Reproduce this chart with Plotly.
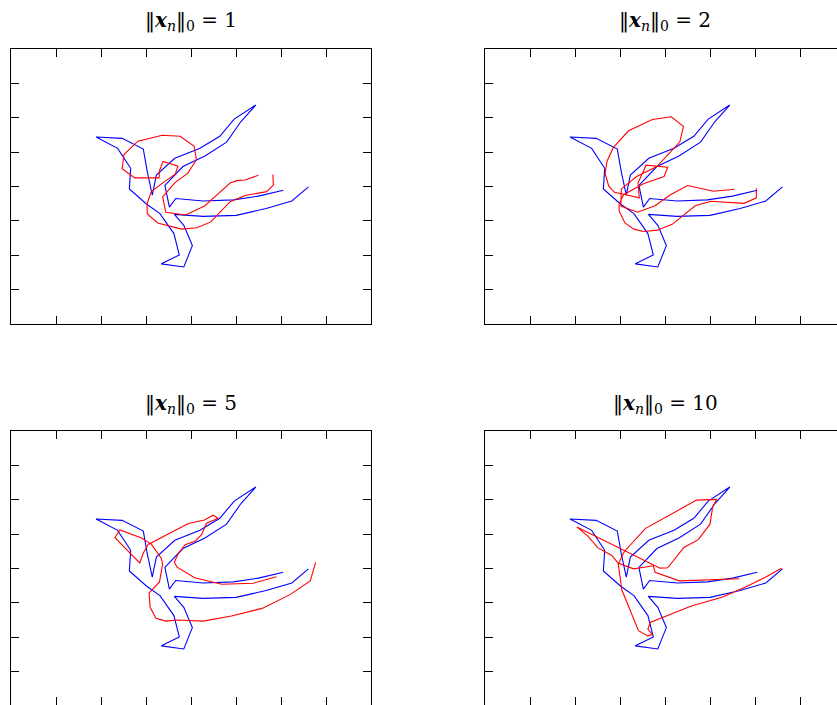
import plotly.graph_objects as go

# sparsity levels shown in the subplot titles
sparsity = [1, 2, 5, 10]

# original shape (blue), identical in every panel
blue_x = [6.05, 5.50, 4.94, 4.27, 3.66, 3.52, 3.42, 3.82, 4.31, 4.79, 5.11, 5.44, 4.96, 4.64, 4.20, 3.64,
          3.23, 3.14, 3.03, 2.94, 2.47, 1.89, 2.37, 2.66, 2.63, 3.01, 3.31, 3.62, 3.74, 3.34, 3.84, 4.03,
          3.84, 3.63, 4.27, 5.00, 5.67, 6.24, 6.61]
blue_y = [3.89, 3.72, 3.61, 3.58, 3.65, 3.40, 4.03, 4.58, 4.89, 5.29, 5.89, 6.37, 5.96, 5.46, 5.11, 4.82,
          4.33, 3.75, 4.42, 5.09, 5.40, 5.44, 5.11, 4.53, 3.93, 3.49, 3.21, 2.63, 2.01, 1.75, 1.66, 2.28,
          2.87, 3.19, 3.13, 3.16, 3.36, 3.58, 3.99]

# reconstructions (red), one per sparsity level
red1_x = [5.50, 5.20, 5.02, 4.87, 4.57, 4.31, 3.88, 3.44, 3.37, 3.65, 3.93, 4.12, 4.07, 3.76, 3.36, 2.82,
          2.51, 2.47, 2.75, 3.29, 3.30, 3.38, 3.71, 3.65, 3.42, 3.12, 3.02, 3.03, 3.26, 3.79, 4.13, 4.44,
          4.87, 5.20, 5.68, 5.83, 5.82]
red1_y = [4.33, 4.19, 4.17, 4.10, 3.75, 3.44, 3.17, 3.25, 3.70, 4.12, 4.39, 4.78, 5.17, 5.46, 5.49, 5.32,
          4.93, 4.52, 4.25, 4.25, 4.46, 4.73, 4.59, 4.36, 4.15, 3.86, 3.49, 3.20, 2.94, 2.76, 2.80, 2.97,
          3.56, 3.74, 3.85, 4.04, 4.35]

red2_x = [5.54, 5.08, 4.50, 4.11, 3.78, 3.39, 3.02, 3.03, 3.37, 3.82, 4.33, 4.41, 4.14, 3.72, 3.19, 2.85,
          2.71, 2.67, 2.75, 2.88, 3.43, 3.40, 3.58, 4.06, 3.98, 3.53, 3.08, 2.98, 2.98, 3.11, 3.31, 3.53,
          3.83, 4.16, 4.38, 4.67, 5.02, 5.76, 6.03, 6.03]
red2_y = [3.92, 3.86, 4.03, 3.75, 3.44, 3.25, 3.43, 3.93, 4.29, 4.58, 5.30, 5.75, 6.03, 5.95, 5.62, 5.13,
          4.73, 4.38, 4.01, 3.83, 3.67, 4.10, 4.62, 4.56, 4.29, 4.09, 3.76, 3.49, 3.29, 2.94, 2.76, 2.69,
          2.73, 2.90, 3.13, 3.44, 3.57, 3.51, 3.67, 3.95]

red5_x = [5.90, 5.38, 4.69, 4.08, 3.69, 3.63, 3.71, 3.87, 4.09, 4.24, 4.34, 4.60, 4.49, 4.30, 3.94, 3.05,
          2.94, 2.86, 2.31, 2.42, 2.90, 3.12, 3.34, 3.37, 3.30, 3.07, 3.09, 3.22, 3.44, 3.69, 4.27, 4.90,
          5.58, 6.20, 6.65, 6.77]
red5_y = [3.76, 3.57, 3.54, 3.73, 4.04, 4.18, 4.42, 4.69, 4.79, 4.99, 5.31, 5.46, 5.55, 5.41, 5.31, 4.70,
          4.45, 4.16, 4.90, 5.12, 4.89, 4.71, 4.29, 4.13, 3.61, 3.29, 2.88, 2.55, 2.47, 2.50, 2.47, 2.62,
          2.84, 3.24, 3.64, 4.18]

red10_x = [5.65, 4.32, 3.78, 3.74, 3.30, 2.97, 3.09, 3.56, 4.70, 5.15, 5.06, 5.00, 4.74, 4.42, 4.06, 3.89,
           2.04, 2.28, 2.51, 2.82, 2.96, 3.04, 3.41, 3.62, 3.72, 3.62, 3.67, 4.57, 5.28, 5.79, 6.22, 6.59]
red10_y = [3.70, 3.64, 3.89, 4.08, 3.99, 4.15, 4.48, 5.16, 5.99, 6.01, 5.80, 5.29, 4.84, 4.61, 4.02, 4.01,
           5.21, 4.95, 4.60, 4.38, 4.15, 3.38, 2.19, 2.04, 2.08, 2.23, 2.43, 2.90, 3.17, 3.46, 3.74, 4.01]

tick_vals = [1, 2, 3, 4, 5, 6, 7]

reds = [(red1_x, red1_y), (red2_x, red2_y), (red5_x, red5_y), (red10_x, red10_y)]

W, H = 837, 705
fig = go.Figure()

for i, (rx, ry) in enumerate(reds):
    k = "" if i == 0 else str(i + 1)
    fig.add_trace(go.Scatter(x=blue_x, y=blue_y, mode="lines", xaxis="x" + k, yaxis="y" + k,
                             line=dict(color="#0000ff", width=1.1), showlegend=False, hoverinfo="skip"))
    fig.add_trace(go.Scatter(x=rx, y=ry, mode="lines", xaxis="x" + k, yaxis="y" + k,
                             line=dict(color="#ff0000", width=1.1), showlegend=False, hoverinfo="skip"))

common = dict(showline=True, linecolor="black", linewidth=1.2, ticks="inside", ticklen=8,
              tickcolor="black", tickwidth=1, showticklabels=False, showgrid=False, zeroline=False,
              tickvals=tick_vals, fixedrange=True)

# pixel geometry of the panels
left_a, left_b = 11, 485
unit_x = 45.0
top_a, top_b = 49, 431
unit_y = 34.375
pw, ph = 360, 275

def xd(x0, x1):
    return [x0 / W, min(1.0, x1 / W)]

def yd(t, b):
    return [max(0.0, 1 - b / H), 1 - t / H]

x_right_range = [0, (W - left_b) / unit_x]
y_bot_range = [(top_b + ph - H) / unit_y, 8]

layout_axes = {
    "xaxis": dict(domain=xd(left_a, left_a + pw), range=[0, 8], anchor="y", mirror="ticks", **common),
    "yaxis": dict(domain=yd(top_a, top_a + ph), range=[0, 8], anchor="x", mirror="ticks", **common),
    "xaxis2": dict(domain=xd(left_b, left_b + pw), range=x_right_range, anchor="y2", mirror="ticks", **common),
    "yaxis2": dict(domain=yd(top_a, top_a + ph), range=[0, 8], anchor="x2", mirror=True, **common),
    "xaxis3": dict(domain=xd(left_a, left_a + pw), range=[0, 8], anchor="y3", mirror="ticks", **common),
    "yaxis3": dict(domain=yd(top_b, H), range=y_bot_range, anchor="x3", mirror="ticks", **common),
    "xaxis4": dict(domain=xd(left_b, left_b + pw), range=x_right_range, anchor="y4", mirror="ticks", **common),
    "yaxis4": dict(domain=yd(top_b, H), range=y_bot_range, anchor="x4", mirror=True, **common),
}
fig.update_layout(**layout_axes)

title_pos = [(191, 21), (665, 21), (191, 404), (665, 404)]
annotations = []
for s, (cx, cy) in zip(sparsity, title_pos):
    annotations.append(dict(
        text="‖<b><i>x</i></b><sub><i>n</i></sub>‖<sub>0</sub> = " + str(s),
        x=cx / W, y=1 - cy / H, xref="paper", yref="paper", xanchor="center", yanchor="middle",
        showarrow=False, font=dict(family="DejaVu Serif", size=20, color="black")))

fig.update_layout(width=W, height=H, margin=dict(l=0, r=0, t=0, b=0),
                  paper_bgcolor="white", plot_bgcolor="white", annotations=annotations,
                  showlegend=False)

fig.write_html("out.html", config={"displayModeBar": False})
